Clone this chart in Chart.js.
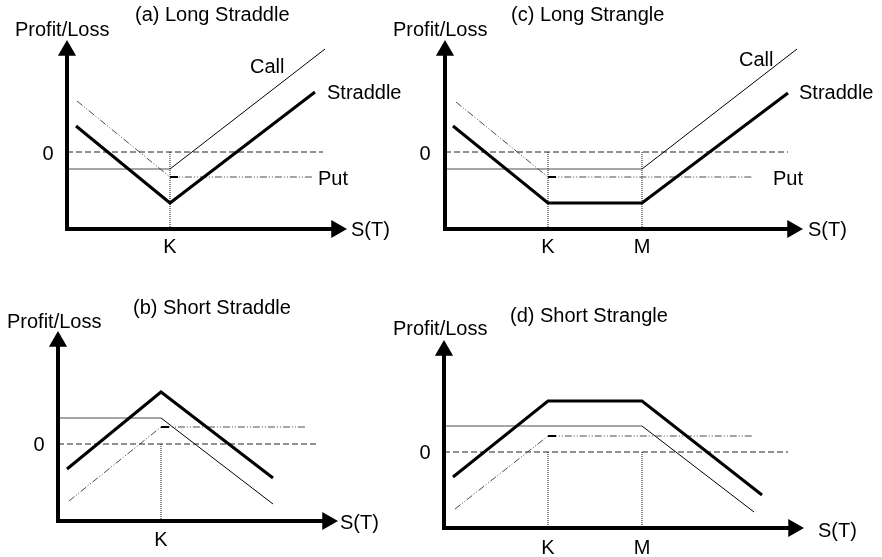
<!DOCTYPE html>
<html>
<head>
<meta charset="utf-8">
<script src="https://cdn.jsdelivr.net/npm/chart.js@4.4.1/dist/chart.umd.min.js"></script>
<style>
  html, body { margin: 0; padding: 0; background: #fff; }
  #wrap { position: relative; width: 882px; height: 557px; overflow: hidden; }
  #wrap canvas { position: absolute; left: 0; top: 0; }
</style>
</head>
<body>
<div id="wrap">
  <canvas id="panel-a" width="882" height="557"></canvas>
  <canvas id="panel-b" width="882" height="557"></canvas>
  <canvas id="panel-c" width="882" height="557"></canvas>
  <canvas id="panel-d" width="882" height="557"></canvas>
</div>
<script>
// payoff values: x = S(T) measured from the vertical axis, y = profit/loss (0 = break-even)
const STRIKE_NAMES = ['K', 'M'];

// (a) long straddle
const A_STRIKES = [103];
const A_CALL = [{x: 0, y: -17}, {x: 103, y: -17}, {x: 258, y: 103}];
const A_PUT = [{x: 10, y: 51}, {x: 103, y: -25}, {x: 246, y: -25}];
const A_STRADDLE = [{x: 9, y: 26}, {x: 103, y: -51}, {x: 248, y: 60}];

// (b) short straddle
const B_STRIKES = [103];
const B_CALL = [{x: 0, y: 26}, {x: 103, y: 26}, {x: 215, y: -60}];
const B_PUT = [{x: 11, y: -57}, {x: 103, y: 17}, {x: 249, y: 17}];
const B_STRADDLE = [{x: 9, y: -25}, {x: 103, y: 52}, {x: 215, y: -34}];

// (c) long strangle
const C_STRIKES = [103, 197];
const C_CALL = [{x: 0, y: -17}, {x: 197, y: -17}, {x: 352, y: 103}];
const C_PUT = [{x: 11, y: 50}, {x: 103, y: -25}, {x: 308, y: -25}];
const C_STRADDLE = [{x: 8, y: 26}, {x: 103, y: -51}, {x: 197, y: -51}, {x: 343, y: 59}];

// (d) short strangle
const D_STRIKES = [104, 198];
const D_CALL = [{x: 0, y: 26}, {x: 198, y: 26}, {x: 310, y: -60}];
const D_PUT = [{x: 11, y: -57}, {x: 104, y: 16}, {x: 309, y: 16}];
const D_STRADDLE = [{x: 9, y: -25}, {x: 104, y: 51}, {x: 198, y: 51}, {x: 318, y: -43}];

const FONT = '20px "Liberation Sans", Arial, Helvetica, sans-serif';

// draws the words of a panel at value positions, through the chart's scales
const panelText = {
  id: 'panelText',
  afterDraw(chart, args, opts) {
    const {ctx, scales: {x, y}} = chart;
    ctx.save();
    ctx.fillStyle = '#000';
    ctx.font = FONT;
    ctx.textBaseline = 'alphabetic';
    opts.items.forEach(t => {
      ctx.textAlign = t.align || 'left';
      ctx.fillText(t.text, x.getPixelForValue(t.x), y.getPixelForValue(t.y));
    });
    ctx.restore();
  }
};

const panels = [
  {
    id: 'panel-a', origin: [67, 152], axisY: -77, yTip: 112, xTip: 280, zeroEnd: 256, tickY: -101,
    strikes: A_STRIKES, call: A_CALL, put: A_PUT, straddle: A_STRADDLE,
    text: [
      {text: 'Profit/Loss', x: -52, y: 116},
      {text: '(a) Long Straddle', x: 68, y: 131},
      {text: '0', x: -19, y: -8, align: 'center'},
      {text: 'S(T)', x: 284, y: -84},
      {text: 'Call', x: 183, y: 79},
      {text: 'Straddle', x: 260, y: 53},
      {text: 'Put', x: 251, y: -33},
    ],
  },
  {
    id: 'panel-c', origin: [445, 152], axisY: -77, yTip: 112, xTip: 358, zeroEnd: 343, tickY: -101,
    strikes: C_STRIKES, call: C_CALL, put: C_PUT, straddle: C_STRADDLE,
    text: [
      {text: 'Profit/Loss', x: -52, y: 116},
      {text: '(c) Long Strangle', x: 66, y: 131},
      {text: '0', x: -20, y: -8, align: 'center'},
      {text: 'S(T)', x: 363, y: -84},
      {text: 'Call', x: 294, y: 86},
      {text: 'Straddle', x: 354, y: 53},
      {text: 'Put', x: 328, y: -33},
    ],
  },
  {
    id: 'panel-b', origin: [58, 444], axisY: -77, yTip: 113, xTip: 280, zeroEnd: 258, tickY: -102,
    strikes: B_STRIKES, call: B_CALL, put: B_PUT, straddle: B_STRADDLE,
    text: [
      {text: 'Profit/Loss', x: -51, y: 116},
      {text: '(b) Short Straddle', x: 75, y: 130},
      {text: '0', x: -19, y: -7, align: 'center'},
      {text: 'S(T)', x: 282, y: -85},
    ],
  },
  {
    id: 'panel-d', origin: [444, 452], axisY: -76, yTip: 112, xTip: 360, zeroEnd: 344, tickY: -102,
    strikes: D_STRIKES, call: D_CALL, put: D_PUT, straddle: D_STRADDLE,
    text: [
      {text: 'Profit/Loss', x: -51, y: 117},
      {text: '(d) Short Strangle', x: 66, y: 130},
      {text: '0', x: -19, y: -7, align: 'center'},
      {text: 'S(T)', x: 374, y: -85},
    ],
  },
];

function makePanel(p) {
  const canvas = document.getElementById(p.id);
  const [ox, zy] = p.origin;
  const W = canvas.width, H = canvas.height;
  const arrowR = 10.5;

  const labels = p.text.concat(p.strikes.map((k, i) => ({text: STRIKE_NAMES[i], x: k, y: p.tickY, align: 'center'})));

  const line = (data, extra) => Object.assign({
    data, showLine: true, pointRadius: 0, borderWidth: 1, borderColor: '#000',
    fill: false, tension: 0, clip: false,
  }, extra);

  const putStart = p.put[1];
  const datasets = [
    // arrow heads
    {
      data: [{x: 0, y: p.yTip - arrowR}, {x: p.xTip - arrowR, y: p.axisY}],
      showLine: false, pointStyle: 'triangle', pointRadius: arrowR,
      pointRotation: [0, 90], backgroundColor: '#000', borderWidth: 0, clip: false,
    },
    // axes
    line([{x: 0, y: p.yTip - 12}, {x: 0, y: p.axisY}, {x: p.xTip - 12, y: p.axisY}],
      {borderWidth: 4, borderJoinStyle: 'miter', borderCapStyle: 'butt'}),
    line(p.straddle, {borderWidth: 3, borderJoinStyle: 'miter'}),
    line([putStart, {x: putStart.x + 8, y: putStart.y}], {borderWidth: 2}),
    line(p.put, {borderColor: '#4a4a4a', borderDash: [7, 2, 1, 2, 1, 2]}),
    line(p.call, {segment: {borderColor: c => c.p0DataIndex === 0 ? '#4d4d4d' : '#000'}}),
    ...p.strikes.map(k => line([{x: k, y: 0}, {x: k, y: p.axisY}], {borderColor: '#111', borderDash: [1, 1]})),
    line([{x: 0, y: 0}, {x: p.zeroEnd, y: 0}], {borderColor: '#222', borderDash: [6, 3]}),
  ];

  new Chart(canvas, {
    type: 'scatter',
    data: {datasets},
    options: {
      responsive: false,
      animation: false,
      devicePixelRatio: 1,
      layout: {padding: 0, autoPadding: false},
      events: [],
      plugins: {legend: {display: false}, tooltip: {enabled: false}, panelText: {items: labels}},
      scales: {
        x: {type: 'linear', display: false, min: -ox, max: W - ox},
        y: {type: 'linear', display: false, min: zy - H, max: zy},
      },
    },
    plugins: [panelText],
  });
}

panels.forEach(makePanel);
</script>
</body>
</html>
